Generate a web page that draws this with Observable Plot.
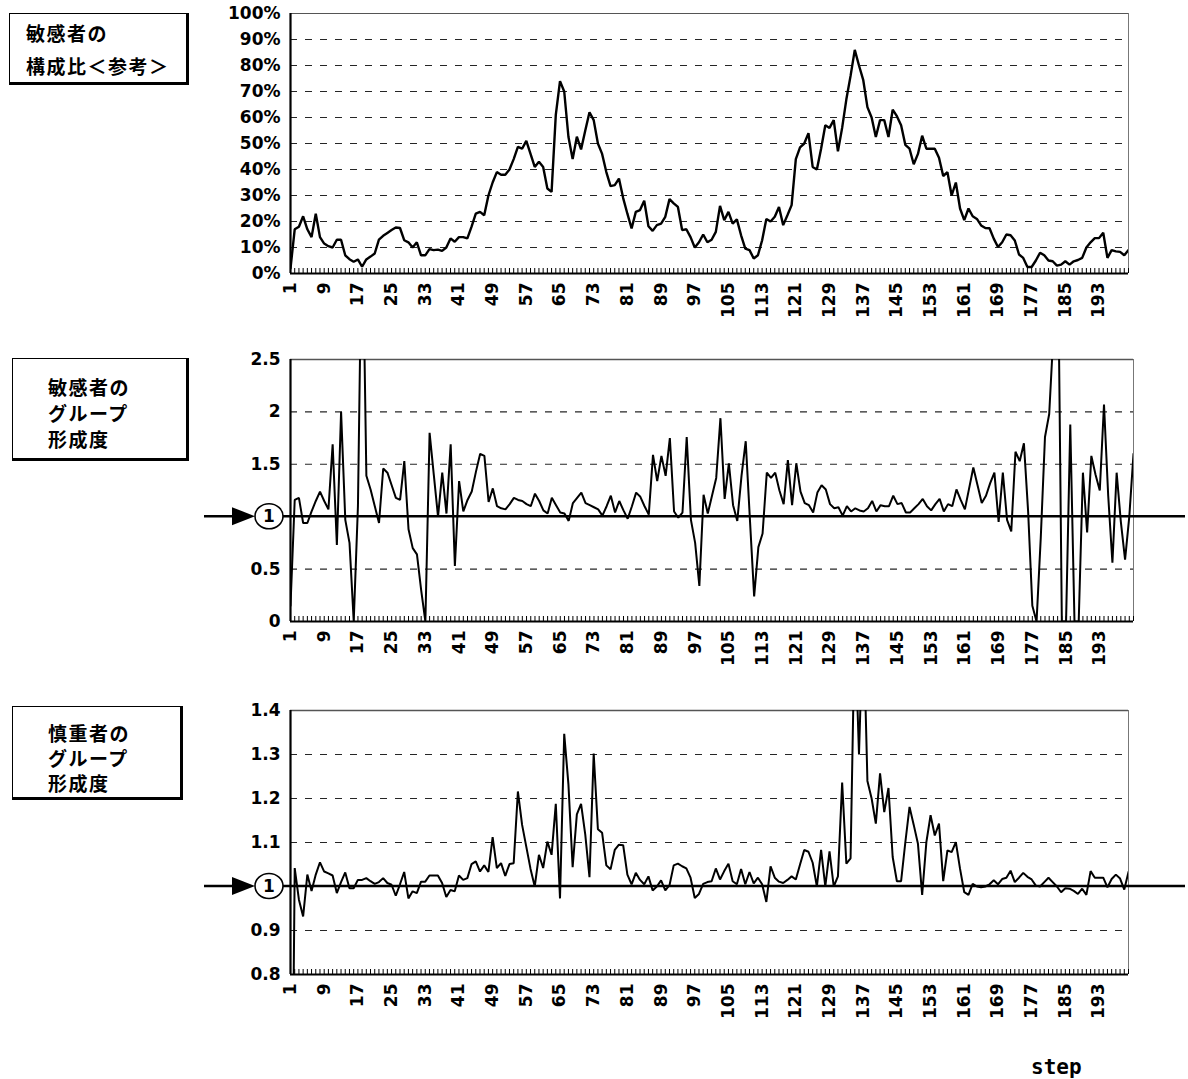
<!DOCTYPE html>
<html><head><meta charset="utf-8">
<script src="https://cdn.jsdelivr.net/npm/d3@7"></script>
<script src="https://cdn.jsdelivr.net/npm/@observablehq/plot@0.6"></script>
<style>
html,body{margin:0;padding:0;background:#fff}
body{width:1188px;height:1079px;position:relative;overflow:hidden}
.box{position:absolute;box-sizing:border-box;border:1.5px solid #000;border-right-width:3px;border-bottom-width:3px;
 font-family:"Noto Sans CJK JP",sans-serif;font-weight:700;font-size:19px;letter-spacing:1.5px;color:#000}
.box div{position:absolute;white-space:nowrap}
.panel{position:absolute;left:0}
#step{position:absolute;left:1031px;top:1055px;font-family:"DejaVu Sans Mono",monospace;font-weight:bold;font-size:21px}
</style></head>
<body>
<div class="box" style="left:9px;top:13px;width:180px;height:72px">
  <div style="left:16px;top:5px">敏感者の</div>
  <div style="left:16px;top:38px">構成比＜参考＞</div>
</div>
<div class="box" style="left:12px;top:358px;width:177px;height:103px">
  <div style="left:35px;top:14px">敏感者の</div>
  <div style="left:35px;top:40px">グループ</div>
  <div style="left:35px;top:66px">形成度</div>
</div>
<div class="box" style="left:12px;top:706px;width:171px;height:94px">
  <div style="left:35px;top:12px">慎重者の</div>
  <div style="left:35px;top:37px">グループ</div>
  <div style="left:35px;top:62px">形成度</div>
</div>
<div id="p1" class="panel" style="top:0px"></div>
<div id="p2" class="panel" style="top:340px"></div>
<div id="p3" class="panel" style="top:690px"></div>
<div id="step">step</div>
<script>
// x tick labels (every 8th step)
const xLabels = [1,9,17,25,33,41,49,57,65,73,81,89,97,105,113,121,129,137,145,153,161,169,177,185,193];

// Panel 1: 敏感者の構成比 (%)
const shareSensitive = [
 2,17,18,22,17,14,23,14,11.5,10.5,
 10,13,13,7,5.5,4.5,5.4,2.6,5.4,6.5,
 7.7,13,14.5,15.6,16.7,17.7,17.5,12.8,12,10,
 12,7,7,9.4,9,9.2,8.7,10,13.5,12.2,
 14,14,13.5,18,23,23.7,22.4,30,35,39,
 38,38,40,44,48.7,48,51,46,41,43,
 41,32.7,31.4,61,74,70,52.6,44,52.6,47.7,
 55,62,59,50,46,39,33.6,34,36.5,29,
 23,17.3,23.7,24.4,28,18.2,16.4,18.6,19.2,21.8,
 28.6,27,25.6,16.7,17,14,10,12,15,12,
 13,16,26,20.5,23.7,19.2,20.8,14.7,9.6,9,
 5.8,7,12.8,21,20,21.8,25.6,18.6,22.4,26.3,
 44,48.5,50,54,41,40,48,57,56,59,
 47,56,67,76,86,80,74.5,64,60,52.5,
 59,59,52.5,63,60.5,57,49.5,48,42,46,
 53,48,48,48,44.5,37.5,39,30,35,25,
 20.5,25,22,21,18.5,17.5,17.4,13.4,10.2,12,
 15,14.7,12.7,7.3,6,2.5,2.5,5,8,7,
 5,4.7,3,3.4,4.7,3.4,4.7,5.2,6,10,
 12,13.6,13.6,15.7,6,9,8.5,8.3,7,9
];
const yTicks1 = [0,10,20,30,40,50,60,70,80,90,100];

// Panel 2: 敏感者のグループ形成度
const groupSensitive = [
 0.15,1.16,1.18,0.94,0.94,1.05,1.15,1.24,1.15,1.07,
 1.69,0.73,2.0,0.97,0.75,0,1.1,4.0,1.39,1.26,
 1.1,0.94,1.46,1.42,1.3,1.18,1.16,1.53,0.88,0.7,
 0.64,0.3,0,1.8,1.4,1.0,1.42,1.03,1.69,0.53,
 1.34,1.05,1.16,1.24,1.43,1.6,1.58,1.14,1.27,1.1,
 1.08,1.07,1.12,1.18,1.16,1.15,1.12,1.1,1.22,1.15,
 1.06,1.03,1.18,1.11,1.04,1.03,0.96,1.13,1.18,1.23,
 1.13,1.11,1.09,1.07,1.01,1.1,1.2,1.04,1.15,1.06,
 0.98,1.1,1.23,1.19,1.1,1.02,1.59,1.34,1.58,1.39,
 1.75,1.05,0.99,1.04,1.76,0.97,0.75,0.34,1.21,1.03,
 1.2,1.37,1.94,1.17,1.51,1.11,0.96,1.39,1.72,0.97,
 0.24,0.71,0.84,1.42,1.37,1.42,1.25,1.12,1.54,1.11,
 1.51,1.24,1.13,1.11,1.04,1.23,1.3,1.26,1.12,1.08,
 1.09,1.01,1.1,1.05,1.08,1.06,1.05,1.08,1.15,1.05,
 1.11,1.1,1.1,1.2,1.12,1.13,1.04,1.04,1.08,1.12,
 1.17,1.1,1.06,1.12,1.17,1.05,1.12,1.1,1.26,1.16,
 1.07,1.27,1.47,1.3,1.13,1.2,1.32,1.42,0.95,1.42,
 0.97,0.86,1.62,1.53,1.7,1.05,0.15,0,0.8,1.76,
 1.98,2.75,3.85,0,0,1.88,0,0,1.42,0.85,
 1.58,1.4,1.25,2.07,1.2,0.56,1.42,0.95,0.59,1.0,1.6
];
const yTicks2 = [0,0.5,1.5,2,2.5];

// Panel 3: 慎重者のグループ形成度
const groupCautious = [
 0,1.042,0.97,0.932,1.027,0.99,1.027,1.055,1.034,1.03,
 1.025,0.985,1.01,1.032,0.996,0.996,1.015,1.015,1.019,1.012,
 1.006,1.01,1.019,1.008,1.004,0.979,1.005,1.033,0.973,0.989,
 0.985,1.011,1.011,1.025,1.025,1.025,1.008,0.976,0.992,0.989,
 1.025,1.015,1.019,1.051,1.057,1.034,1.048,1.033,1.112,1.042,
 1.053,1.024,1.051,1.053,1.216,1.14,1.09,1.04,1.0,1.072,
 1.042,1.102,1.072,1.188,0.973,1.347,1.232,1.044,1.164,1.188,
 1.118,1.021,1.302,1.13,1.122,1.048,1.039,1.083,1.095,1.094,
 1.027,1.005,1.031,1.015,1.005,1.023,0.991,1.0,1.014,0.991,
 1.003,1.048,1.052,1.046,1.041,1.02,0.974,0.983,1.006,1.01,
 1.012,1.041,1.016,1.035,1.052,1.012,1.005,1.04,1.005,1.033,
 1.007,1.02,1.005,0.965,1.046,1.02,1.011,1.008,1.015,1.023,
 1.016,1.05,1.083,1.079,1.054,1.0,1.083,1.0,1.08,1.0,
 1.023,1.236,1.052,1.064,1.6,1.3,1.62,1.24,1.2,1.143,
 1.257,1.169,1.224,1.067,1.012,1.012,1.1,1.181,1.14,1.097,
 0.981,1.101,1.162,1.116,1.143,1.012,1.082,1.078,1.101,1.04,
 0.987,0.981,1.006,1.0,0.998,1.0,1.005,1.014,1.005,1.017,
 1.02,1.036,1.01,1.02,1.031,1.022,1.016,1.002,1.0,1.01,
 1.02,1.01,1.0,0.987,0.996,0.995,0.99,0.983,0.995,0.981,
 1.035,1.02,1.02,1.02,0.998,1.017,1.027,1.018,0.993,1.033
];
const yTicks3 = [0.8,0.9,1.1,1.2,1.3,1.4];

const W = 1188;
const font = {fontFamily:"'DejaVu Sans', sans-serif", fontSize:"17px", fontWeight:"bold", background:"transparent", color:"#000", overflow:"visible"};

function panel(el, cfg){
  const n = cfg.values.length;
  const steps = d3.range(1, n + 1);
  const frameH = cfg.height - cfg.mt - cfg.mb;
  const [y0, y1] = cfg.yDomain;
  const chart = Plot.plot({
    width: W, height: cfg.height,
    marginLeft: 290, marginRight: cfg.mr, marginTop: cfg.mt, marginBottom: cfg.mb,
    style: font,
    x: {type:"linear", domain:[1, n], ticks: xLabels, tickFormat: d => String(d), tickRotate: -90, tickSize: 0, tickPadding: 9, label: null},
    y: {domain: cfg.yDomain, ticks: cfg.yTicks, tickFormat: cfg.fmt, tickSize: 0, tickPadding: 10, label: null},
    marks: [
      Plot.ruleY(cfg.grid, {stroke:"#000", strokeOpacity:0.85, strokeWidth:1.1, strokeDasharray:"7,8"}),
      Plot.ruleY([y1], {stroke:"#555", strokeWidth: cfg.topW}),
      Plot.ruleX([n], {stroke:"#777", strokeWidth:1}),
      Plot.tickX(steps, {x: d => d, insetTop: frameH - 5, stroke:"#000", strokeWidth:1}),
      Plot.line(cfg.values, {x: (d, i) => i + 1, y: d => d, stroke:"#000", strokeWidth: cfg.lw, strokeLinejoin:"miter", clip: true}),
      Plot.ruleY([y0], {stroke:"#000", strokeWidth:2}),
      Plot.ruleX([1], {stroke:"#000", strokeWidth:2.2})
    ]
  });
  if (cfg.refOne) {
    const yy = chart.scale("y").apply(1);
    const ml = 290;
    const g = d3.select(chart).append("g");
    g.append("line").attr("x1", ml - 7).attr("x2", W - 3).attr("y1", yy).attr("y2", yy)
      .attr("stroke", "#000").attr("stroke-width", 2.4);
    g.append("ellipse").attr("cx", ml - 21).attr("cy", yy).attr("rx", 14).attr("ry", 12.5)
      .attr("fill", "#fff").attr("stroke", "#000").attr("stroke-width", 1.6);
    g.append("text").attr("x", ml - 21).attr("y", yy).attr("dy", "0.36em").attr("text-anchor", "middle")
      .attr("font-size", 17).attr("font-weight", "bold").text("1");
    g.append("line").attr("x1", ml - 86).attr("x2", ml - 50).attr("y1", yy).attr("y2", yy)
      .attr("stroke", "#000").attr("stroke-width", 2.6);
    g.append("path").attr("d", `M${ml-58},${yy-9}L${ml-35},${yy}L${ml-58},${yy+9}Z`).attr("fill", "#000");
  }
  document.getElementById(el).appendChild(chart);
}

panel("p1", {values: shareSensitive, yDomain:[0,100], yTicks: yTicks1, fmt: d => d + "%",
  grid:[10,20,30,40,50,60,70,80,90], height:330, mt:13, mb:57, mr: W - 1128, lw:2.4, topW:1, refOne:false});
panel("p2", {values: groupSensitive, yDomain:[0,2.5], yTicks: yTicks2, fmt: d => String(d),
  grid:[0.5,1.5,2], height:340, mt:19, mb:59, mr: W - 1133, lw:2, topW:1.4, refOne:true});
panel("p3", {values: groupCautious, yDomain:[0.8,1.4], yTicks: yTicks3, fmt: d => d.toFixed(1),
  grid:[0.9,1.1,1.2,1.3], height:345, mt:20, mb:61, mr: W - 1128, lw:2, topW:1.4, refOne:true});
</script>
</body></html>
